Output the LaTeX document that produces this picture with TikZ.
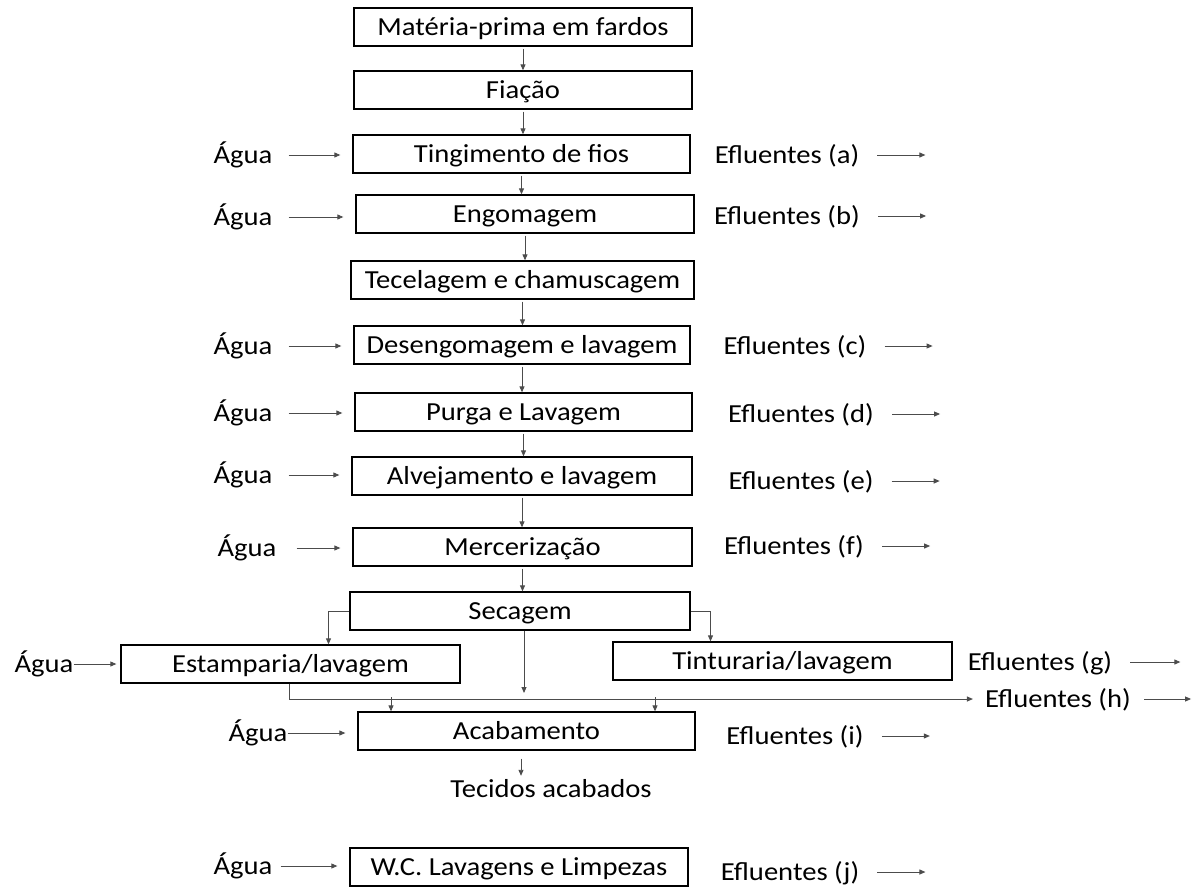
\documentclass[tikz,border=0pt]{standalone}
\usepackage{fontspec}
\setmainfont{Carlito}[FakeStretch=1.1]
\usetikzlibrary{arrows.meta}

\begin{document}
\begin{tikzpicture}[x=1pt,y=-1pt,
  txt/.style={font=\fontsize{26}{31}\selectfont,text height=21pt,text depth=5pt},
  box/.style={txt,draw,line width=1.3pt,minimum width=338pt,minimum height=38pt,inner sep=0pt},
  lbl/.style={txt,inner sep=0pt},
  flow/.style={draw=black!70,line width=.9pt,-{Triangle[length=6pt,width=5pt]}}]
\useasboundingbox (0,0) rectangle (1198,886);
\foreach \n/\x/\y/\w/\t in {mp/523/27/338/Matéria-prima em fardos,fi/523/90/338/Fiação,
  ti/521.5/154/337/Tingimento de fios,en/525/214/338/Engomagem,te/522.5/280/343/Tecelagem e chamuscagem,
  de/522/345/336/Desengomagem e lavagem,pu/523.5/412/337/Purga e Lavagem,al/522/476/340/Alvejamento e lavagem,
  me/522.5/547/339/Mercerização,se/520/611/340/Secagem,ac/526.5/731/337/Acabamento,lv/519/867/338/W.C. Lavagens e Limpezas}
  \node[box,minimum width=\w pt] (\n) at (\x,\y) {\t};
\node[box,minimum width=339pt] (es) at (290.5,664) {Estamparia/lavagem};
\node[box,minimum width=339pt] (tt) at (782.5,661) {Tinturaria/lavagem};
\foreach \a/\b in {mp/fi,fi/ti,ti/en,en/te,te/de,de/pu,pu/al,al/me,me/se}
  \draw[flow] ([yshift=-2pt]\a.south) -- (\a.south |- \b.north);
\foreach \n/\l/\ax/\ay/\g/\ex/\ey in {ti/a/243/155/16/787/155,en/b/243/217/16/787/216,de/c/243/346/16/795/346,
  pu/d/243/413/16/801/414,al/e/243/475/16/801/481,me/f/247/548/20/794/546,ac/i/258/733/0/795/736,lv/j/243/866/8/790/872}{
  \node[lbl] (agua\l) at (\ax,\ay) {Água};
  \node[lbl] (ef\l) at (\ex,\ey) {Efluentes (\l)};
  \draw[flow] ([xshift=\g pt]agua\l.east) -- ([xshift=-12pt]\n.west |- agua\l);
  \draw[flow] ([xshift=18pt]ef\l.east) -- ++(48,0);
}
\node[lbl] (aguaes) at (44,664) {Água};
\draw[flow] (aguaes.east) -- ([xshift=-4pt]es.west);
\node[lbl] (efg) at (1040,662) {Efluentes (g)};
\draw[flow] ([xshift=18pt]efg.east) -- ++(50,0);
\node[lbl] (efh) at (1058,699) {Efluentes (h)};
\draw[flow] ([xshift=13pt]efh.east) -- ++(47,0);
\node[lbl] (tec) at (551,789) {Tecidos acabados};
% secagem split
\draw[flow] (se.west) -| ([xshift=38pt]es.north);
\draw[flow] (se.east) -| ([xshift=-72pt]tt.north);
\coordinate (b1) at (391,697);
\coordinate (b2) at (655,697);
\coordinate (b3) at (524,693);
\draw[flow] (b3 |- se.south) -- (b3);
\draw[flow] ([xshift=-1.5pt]es.south) |- ([xshift=-12pt]efh.west);
\draw[flow] (b1) -- (b1 |- ac.north);
\draw[flow] (b2) -- (b2 |- ac.north);
\draw[flow] ([yshift=-8pt]521,0 |- ac.south) -- (521,0 |- tec.north);
\end{tikzpicture}
\end{document}
